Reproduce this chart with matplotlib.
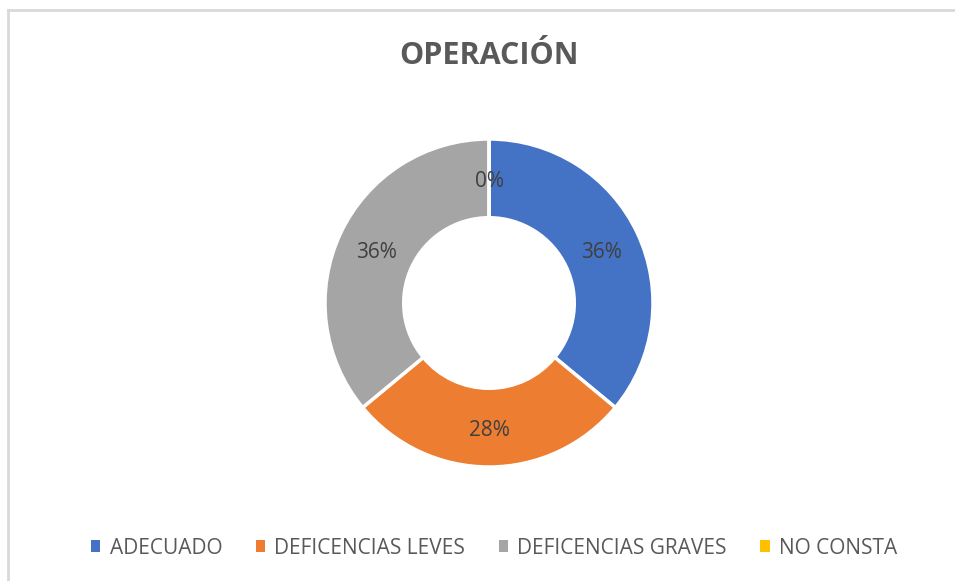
import matplotlib
matplotlib.use("Agg")
import matplotlib.pyplot as plt
from matplotlib.lines import Line2D
from matplotlib.patches import Patch
import numpy as np

categories = ["ADECUADO", "DEFICENCIAS LEVES", "DEFICENCIAS GRAVES", "NO CONSTA"]
values = [36, 28, 36, 0]
labels_pct = ["36%", "28%", "36%", "0%"]
colors = ["#4472C4", "#ED7D31", "#A5A5A5", "#FFC000"]
title = "OPERACIÓN"

W, H = 955, 581
fig = plt.figure(figsize=(W / 100, H / 100), dpi=100)
fig.patch.set_facecolor("white")

fam = ["Open Sans", "DejaVu Sans"]

cx, cy, R = 489, 303, 164
ax = fig.add_axes([(cx - R) / W, (H - cy - R) / H, 2 * R / W, 2 * R / H])
wedges, _ = ax.pie(values, colors=colors, startangle=90, counterclock=False,
                   radius=1.0, wedgeprops=dict(width=0.48, edgecolor="white", linewidth=2.5))
ax.set_xlim(-1, 1)
ax.set_ylim(-1, 1)
ax.set_aspect("equal")
ax.axis("off")

total = sum(values)
start = 90.0
rmid = 1 - 0.48 / 2
dy = -3.0 / R
for v, lab in zip(values, labels_pct):
    ang = start - 360 * v / total / 2
    start -= 360 * v / total
    a = np.deg2rad(ang)
    ax.text(rmid * np.cos(a), rmid * np.sin(a) + dy, lab, ha="center", va="center",
            fontsize=15, color="#404040", family=fam)

fig.text(489 / W, 1 - 56 / H, title, ha="center", va="center", fontsize=22,
         fontweight="bold", color="#595959", family=fam)

handles = [Patch(facecolor=c, edgecolor="none") for c in colors]
leg = fig.legend(handles, categories, loc="center", bbox_to_anchor=(494 / W, 1 - 548 / H),
                 ncol=4, frameon=False, handlelength=0.45, handleheight=0.45,
                 handletextpad=0.45, columnspacing=1.6,
                 prop=dict(family=fam, size=15))
for t in leg.get_texts():
    t.set_color("#595959")

fig.add_artist(Line2D([8 / W, 8 / W], [0, 1 - 10 / H], color="#D9D9D9", lw=2,
                      transform=fig.transFigure))
fig.add_artist(Line2D([8 / W, 1], [1 - 10 / H, 1 - 10 / H], color="#D9D9D9", lw=2,
                      transform=fig.transFigure))

fig.savefig("out.png", dpi=100, facecolor="white")
